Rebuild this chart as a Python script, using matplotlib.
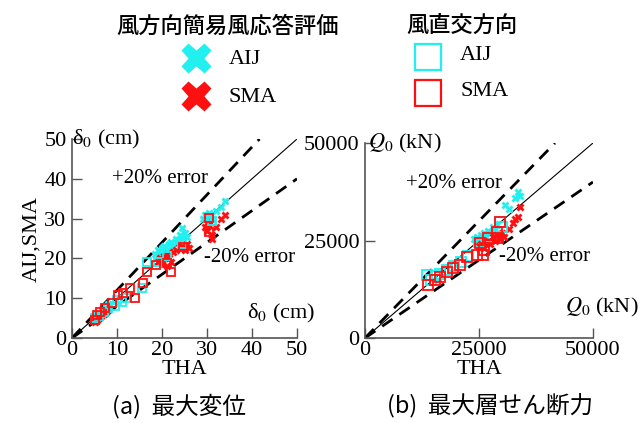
import matplotlib.pyplot as plt
import numpy as np

plt.rcParams['font.family'] = ['Liberation Serif', 'Noto Sans CJK JP']
plt.rcParams['mathtext.fontset'] = 'stix'

# --- data: (a) max displacement, cm ---
disp_aij_x_tha = [18.5, 19, 19.5, 20, 20.5, 21, 21.5, 22, 22.5, 23, 23.5, 24, 24.5, 25, 25.5, 20, 19, 24.4,
                  29, 29.5, 30, 30.5, 31, 32, 33, 34, 5, 6, 7, 8]
disp_aij_x_val = [21, 22, 21.5, 22.5, 23, 22, 23.5, 24, 23, 25, 24.5, 26, 25, 26.5, 25.5, 21, 20.5, 27.6,
                  30, 31, 30.5, 31.5, 30, 32, 33, 34.5, 5, 6, 7, 8.5]
disp_sma_x_tha = [19, 19.5, 20, 20.5, 21, 21.5, 22, 22.5, 23, 24, 24.5, 25, 25.5, 26, 21, 20,
                  29.5, 30, 30.5, 31, 31, 32, 33, 34, 30, 5, 5.5, 6, 6.5, 7, 7.5, 8]
disp_sma_x_val = [19, 20, 19.5, 20.5, 21, 20, 19, 21.5, 22, 22.5, 23, 22, 23.5, 22.5, 18, 18.5,
                  28, 27, 28.5, 26, 25, 28, 30, 31, 29, 4, 4.5, 5, 5.5, 6, 6.5, 7]
disp_aij_s_tha = [5, 6, 7, 8, 9.5, 10, 11, 12, 15.5, 16.6, 19, 21, 24.5, 30.5, 31]
disp_aij_s_val = [5, 5.5, 6.5, 7.5, 8, 9.5, 9, 10, 12.5, 19.2, 19, 20.5, 23.5, 30.5, 29.5]
disp_sma_s_tha = [5.1, 5.5, 6.2, 7.3, 8.9, 10.3, 11.4, 12.9, 14, 15.7, 16.6, 18.7, 21, 22.1, 24.7, 30.5, 30.5]
disp_sma_s_val = [4.5, 5.8, 6.5, 7.5, 8.8, 10.8, 11.3, 12.6, 10, 13.7, 16.7, 18.3, 18.8, 16.7, 22.9, 30.1, 26.6]

# --- data: (b) max story shear, kN ---
shear_aij_x_tha = [24000, 24500, 25000, 25500, 26000, 26500, 27000, 27500, 28000, 28500, 29000,
                   30700, 31500, 33600, 33000, 34000]
shear_aij_x_val = [25500, 26000, 25500, 26500, 27000, 26000, 27500, 27000, 28500, 28000, 29000,
                   34100, 33000, 37400, 36000, 36500]
shear_sma_x_tha = [25000, 25500, 26000, 26500, 27000, 27500, 28000, 28500, 29000, 29500, 30000,
                   30500, 31500, 32500, 33600, 34000, 33000]
shear_sma_x_val = [23500, 24000, 23000, 24500, 25000, 24000, 26000, 25000, 26500, 25500, 27000,
                   26000, 28000, 29500, 31000, 33600, 30500]
shear_aij_s_tha = [13600, 14500, 15500, 16500, 18000, 19500, 21000, 22500, 25000, 27000, 29600, 30000]
shear_aij_s_val = [16200, 15000, 16000, 16500, 17500, 18500, 19500, 21000, 24500, 26000, 29700, 28500]
shear_sma_s_tha = [13800, 15400, 16400, 18000, 19300, 20800, 22400, 24600, 25900, 25200, 27000,
                   28900, 29600, 29200, 26000]
shear_sma_s_val = [13600, 14900, 15600, 17000, 17900, 18700, 20800, 21300, 21300, 24400, 25600,
                   27200, 29700, 25600, 22500]

disp_ticks = [0, 10, 20, 30, 40, 50]
shear_ticks = [0, 25000, 50000]
err_ratios = [1.2, 0.8]

cyan = '#22f0f0'
red = '#ff1010'
axis_gray = '#555555'

fig = plt.figure(figsize=(6.41, 4.23), dpi=100)


def px_axes(x0, y0, x1, y1):
    return fig.add_axes([x0 / 641, 1 - y1 / 423, (x1 - x0) / 641, (y1 - y0) / 423])


def setup(ax, ticks, data, sq_size):
    lim = ticks[-1]
    ax.plot([0, lim], [0, lim], color='k', lw=0.8)
    for r in err_ratios:
        xe = min(lim, lim / r)
        ax.plot([0, xe], [0, xe * r], color='k', lw=2.0, dashes=(4.5, 3))
    ax_, ay_, rx_, ry_, as_, ays_, rs_, rys_ = data
    ax.plot(ax_, ay_, ls='none', marker='X', ms=6, color=cyan, mec='none')
    ax.plot(rx_, ry_, ls='none', marker='X', ms=6, color=red, mec='none')
    ax.plot(as_, ays_, ls='none', marker='s', ms=sq_size, mfc='none', mec=cyan, mew=1.3)
    ax.plot(rs_, rys_, ls='none', marker='s', ms=sq_size, mfc='none', mec=red, mew=1.3)
    ax.set_xlim(0, lim)
    ax.set_ylim(0, lim)
    ax.set_xticks(ticks)
    ax.set_yticks(ticks)
    for s in ['top', 'right']:
        ax.spines[s].set_visible(False)
    for s in ['left', 'bottom']:
        ax.spines[s].set_color(axis_gray)
        ax.spines[s].set_linewidth(1.2)
    ax.tick_params(direction='in', length=7, width=1, color=axis_gray, labelsize=16)
    ax.tick_params(axis='x', pad=2)
    ax.tick_params(axis='y', pad=4)
    ax.patch.set_alpha(0)


axL = px_axes(72, 139, 297, 338)
setup(axL, disp_ticks, [disp_aij_x_tha, disp_aij_x_val, disp_sma_x_tha, disp_sma_x_val,
                        disp_aij_s_tha, disp_aij_s_val, disp_sma_s_tha, disp_sma_s_val], 5.5)
axR = px_axes(365, 143, 593, 338)
setup(axR, shear_ticks, [shear_aij_x_tha, shear_aij_x_val, shear_sma_x_tha, shear_sma_x_val,
                         shear_aij_s_tha, shear_aij_s_val, shear_sma_s_tha, shear_sma_s_val], 7)

# axis labels
axL.text(0.0, 1.0, 'δ$_0$ (cm)', transform=axL.transAxes, fontsize=16, va='center', ha='left')
axL.text(1.08, 0.125, 'δ$_0$ (cm)', transform=axL.transAxes, fontsize=16, va='center', ha='right')
axL.text(8.9, 40, '+20% error', fontsize=15, va='center', ha='left')
axL.text(29.3, 20.3, '-20% error', fontsize=15, va='center', ha='left')
axL.set_ylabel('AIJ,SMA', fontsize=16, labelpad=2)
axL.set_xlabel('THA', fontsize=16, labelpad=0)

axR.text(0.015, 1.0, '$Q_0$ (kN)', transform=axR.transAxes, fontsize=16, va='center', ha='left')
axR.text(1.2, 0.155, '$Q_0$ (kN)', transform=axR.transAxes, fontsize=16, va='center', ha='right')
axR.text(9000, 39700, '+20% error', fontsize=15, va='center', ha='left')
axR.text(29400, 20800, '-20% error', fontsize=15, va='center', ha='left')
axR.set_xlabel('THA', fontsize=16, labelpad=0)

# titles below
fig.text(179 / 641, 1 - 406 / 423, '(a)  最大変位', fontsize=17, ha='center', va='center',
         family=['Noto Sans CJK JP'])
fig.text(490 / 641, 1 - 406 / 423, '(b)  最大層せん断力', fontsize=17, ha='center', va='center',
         family=['Noto Sans CJK JP'])

# legend block on top
lg = fig.add_axes([0, 0, 1, 1])
lg.set_xlim(0, 641)
lg.set_ylim(423, 0)
lg.axis('off')
lg.text(228, 26, '風方向簡易風応答評価', fontsize=16, ha='center', va='center',
        family=['Noto Sans CJK JP'], fontweight='medium')
lg.text(462, 26, '風直交方向', fontsize=16, ha='center', va='center',
        family=['Noto Sans CJK JP'], fontweight='medium')
lg.plot([196], [58], marker='X', ms=22, color=cyan, mec='none')
lg.plot([196], [96], marker='X', ms=22, color=red, mec='none')
lg.text(229, 60, 'AIJ', fontsize=16, ha='left', va='center')
lg.text(229, 98, 'SMA', fontsize=16, ha='left', va='center')
lg.plot([428], [57], marker='s', ms=19, mfc='none', mec=cyan, mew=1.6)
lg.plot([428], [93], marker='s', ms=19, mfc='none', mec=red, mew=1.6)
lg.text(460, 56, 'AIJ', fontsize=16, ha='left', va='center')
lg.text(460, 92, 'SMA', fontsize=16, ha='left', va='center')

fig.savefig('out.png', dpi=100)
